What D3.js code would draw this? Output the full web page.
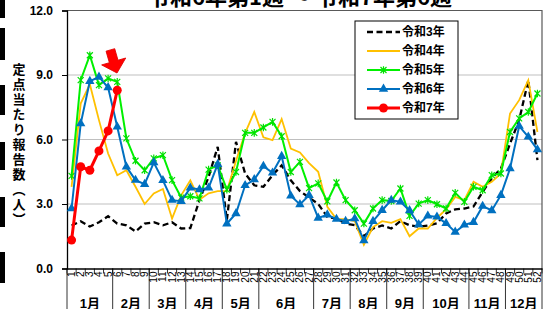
<!DOCTYPE html>
<html><head><meta charset="utf-8">
<script src="https://cdn.jsdelivr.net/npm/d3@7"></script>
<style>body{margin:0;background:#fff}svg{display:block}</style>
</head><body>
<svg id="c" width="544" height="309"></svg>
<script>
const weeks = d3.range(1, 53).map(String);
const months = ["1月","2月","3月","4月","5月","6月","7月","8月","9月","10月","11月","12月"];
const monthWeeks = [5,4,4,4,4,6,4,4,4,5,4,4];
const yTicks = [0, 3, 6, 9, 12];
const seriesNames = ["令和3年","令和4年","令和5年","令和6年","令和7年"];
const r3 = [2.0,2.2,1.95,2.15,2.43,2.09,2.01,1.72,2.09,2.15,2.01,2.15,1.86,1.88,3.18,4.26,5.66,2.25,5.89,4.42,3.87,3.8,4.34,4.8,4.1,3.6,3.3,3.0,2.4,2.32,2.09,2.01,1.5,1.86,2.0,1.86,2.2,2.01,1.94,2.0,2.1,2.56,2.75,2.79,2.88,3.56,4.19,4.65,5.81,6.9,8.76,5.04];
const r4 = [3.8,7.67,8.57,6.9,5.35,4.34,4.57,3.8,3.0,3.49,3.7,2.32,3.4,4.1,3.2,3.5,3.6,3.6,5.0,6.3,7.28,6.1,5.97,6.95,5.58,5.4,4.9,4.5,2.87,2.3,2.3,2.2,1.1,1.93,2.2,2.12,2.3,1.5,1.86,1.86,2.35,2.75,3.33,3.18,4.03,3.8,4.03,4.42,7.21,7.83,8.76,6.35];
const r5 = [4.31,8.76,9.92,8.53,8.84,8.68,6.05,5.01,4.57,5.12,5.27,4.11,3.3,3.36,3.26,4.6,4.8,3.67,4.49,6.31,6.31,6.56,6.82,6.15,4.49,4.96,3.74,3.96,3.12,4.0,3.18,2.71,2.09,2.79,3.18,3.14,3.72,2.45,3.02,3.18,2.99,2.79,3.52,3.1,3.8,3.64,4.34,4.42,6.35,6.98,7.28,8.14];
const r6 = [2.79,6.74,8.71,8.91,8.42,6.59,4.73,4.11,3.92,4.93,4.1,3.18,3.13,3.75,3.67,3.75,4.85,2.08,2.56,3.87,4.14,4.76,4.45,5.22,3.38,2.98,3.41,2.35,2.5,2.3,2.2,2.32,1.3,2.2,2.71,3.18,3.1,2.7,2.05,2.45,2.4,2.1,1.7,2.03,2.15,2.9,2.7,3.41,4.65,6.62,6.12,5.53];
const r7 = [1.32,4.73,4.57,5.47,6.40,8.29];

const svg = d3.select("#c");
const L = 67, R = 542, T = 10.5, B = 268.5;
const x = d3.scaleBand().domain(weeks).range([L, R]);
const y = d3.scaleLinear().domain([0, 12]).range([B, T]);
const cx = i => x(weeks[i]) + x.bandwidth() / 2;
const latin = "'Liberation Sans', Arial, 'Noto Sans CJK JP', sans-serif";
const jp = "'Noto Sans CJK JP', sans-serif";

// left decorative bars
[[0,18],[28,60],[85,115],[142,170],[197,227],[252,283]].forEach(b =>
  svg.append("rect").attr("x",0).attr("y",b[0]).attr("width",5).attr("height",b[1]-b[0]).attr("fill","#000"));

// title
svg.append("text").attr("x", 300).attr("y", 5).attr("text-anchor","middle")
  .style("font-family", jp).style("font-weight","bold").style("font-size","22px")
  .text("令和6年第1週 ～ 令和7年第6週");

// gridlines
svg.append("g").selectAll("line").data([3,6,9]).join("line")
  .attr("x1", L).attr("x2", R).attr("y1", d => y(d)).attr("y2", d => y(d))
  .attr("stroke", "#BFBFBF").attr("stroke-width", 1.2);
// plot border top/right
svg.append("path").attr("d", `M${L},${y(12)}H${R}V${B}`).attr("fill","none").attr("stroke","#595959").attr("stroke-width",1.2);

// y axis
const ya = svg.append("g").attr("transform", `translate(${L},0)`)
  .call(d3.axisLeft(y).tickValues(yTicks).tickSize(5).tickPadding(9).tickFormat(d3.format(".1f")));
ya.select(".domain").attr("stroke","#000").attr("stroke-width",1.3);
ya.selectAll(".tick line").attr("stroke","#000");
ya.selectAll("text").style("font-family", latin).style("font-weight","bold").style("font-size","12px").attr("fill","#000");

// y title
svg.append("text").attr("x", 19).attr("y", 63)
  .attr("writing-mode","vertical-rl")
  .style("font-family", jp).style("font-weight","bold").style("font-size","13px").style("letter-spacing","2px")
  .text("定点当たり報告数（人）");

// x axis
const xa = svg.append("g").attr("transform", `translate(0,${B})`)
  .call(d3.axisBottom(x).tickSize(0).tickPadding(0));
xa.select(".domain").attr("stroke","#000").attr("stroke-width",1.3);
xa.selectAll("text").attr("transform","rotate(-90)").attr("text-anchor","end")
  .attr("x",-3).attr("y",0).attr("dy","0.35em")
  .style("font-family", latin).style("font-size","10px").attr("fill","#000");
// week boundary ticks
svg.append("g").selectAll("line").data(d3.range(0, 53)).join("line")
  .attr("x1", i => L + i * x.step()).attr("x2", i => L + i * x.step())
  .attr("y1", B).attr("y2", B + 5).attr("stroke","#000").attr("stroke-width",0.8);
// month groups
let acc = 0;
const bounds = [0];
monthWeeks.forEach(n => { acc += n; bounds.push(acc); });
svg.append("g").selectAll("line").data(bounds).join("line")
  .attr("x1", i => L + i * x.step()).attr("x2", i => L + i * x.step())
  .attr("y1", B).attr("y2", 309).attr("stroke","#000").attr("stroke-width",0.8);
svg.append("g").selectAll("text").data(months).join("text")
  .attr("x", (d, i) => L + (bounds[i] + bounds[i+1]) / 2 * x.step())
  .attr("y", 303).attr("text-anchor","middle").attr("dominant-baseline","central")
  .style("font-family", latin).style("font-weight","bold").style("font-size","13px")
  .text(d => d);

const line = d3.line().x((d, i) => cx(i)).y(d => y(d));
const g = svg.append("g");
// series
g.append("path").datum(r3).attr("d", line).attr("fill","none").attr("stroke","#000").attr("stroke-width",2.3).attr("stroke-dasharray","6,3.5");
g.append("path").datum(r4).attr("d", line).attr("fill","none").attr("stroke","#FFC000").attr("stroke-width",1.8);
g.append("path").datum(r5).attr("d", line).attr("fill","none").attr("stroke","#00F000").attr("stroke-width",2);
const star = "M-3,-3L3,3M-3,3L3,-3M0,-3.8L0,3.8";
g.append("g").selectAll("path").data(r5).join("path")
  .attr("transform", (d, i) => `translate(${cx(i)},${y(d)})`).attr("d", star)
  .attr("stroke","#00E000").attr("stroke-width",1.2).attr("fill","none");
g.append("path").datum(r6).attr("d", line).attr("fill","none").attr("stroke","#0070C0").attr("stroke-width",2);
const tri = d3.symbol(d3.symbolTriangle, 38)();
g.append("g").selectAll("path").data(r6).join("path")
  .attr("transform", (d, i) => `translate(${cx(i)},${y(d)})`).attr("d", tri).attr("fill","#0070C0");
g.append("path").datum(r7).attr("d", line).attr("fill","none").attr("stroke","#FF0000").attr("stroke-width",3);
g.append("g").selectAll("circle").data(r7).join("circle")
  .attr("cx", (d, i) => cx(i)).attr("cy", d => y(d)).attr("r", 4.5).attr("fill","#FF0000");

// arrow
svg.append("path").attr("transform","translate(117,73) rotate(-16)")
  .attr("d","M-4.5,-24L4.5,-24L4.5,-12L12.5,-12L0,0L-12.5,-12L-4.5,-12Z")
  .attr("fill","#FF0000").attr("stroke","#E00000").attr("stroke-width",0.8);

// legend
const lg = svg.append("g");
lg.append("rect").attr("x",355).attr("y",21).attr("width",103).attr("height",98).attr("fill","#fff").attr("stroke","#000").attr("stroke-width",1);
const ly = [32, 51, 70, 89, 108];
const styles = [
  {c:"#000", w:2.3, dash:"6,3.5"}, {c:"#FFC000", w:1.8}, {c:"#00F000", w:2, m:"star"}, {c:"#0070C0", w:2, m:"tri"}, {c:"#FF0000", w:3, m:"circ"}
];
seriesNames.forEach((n, i) => {
  const s = styles[i];
  lg.append("line").attr("x1",367).attr("x2",400).attr("y1",ly[i]).attr("y2",ly[i])
    .attr("stroke", s.c).attr("stroke-width", s.w).attr("stroke-dasharray", s.dash || null);
  if (s.m === "star") lg.append("path").attr("transform",`translate(383.5,${ly[i]})`).attr("d",star).attr("stroke","#00E000").attr("stroke-width",1.2);
  if (s.m === "tri") lg.append("path").attr("transform",`translate(383.5,${ly[i]})`).attr("d",tri).attr("fill","#0070C0");
  if (s.m === "circ") lg.append("circle").attr("cx",383.5).attr("cy",ly[i]).attr("r",4.5).attr("fill","#FF0000");
  lg.append("text").attr("x",402).attr("y",ly[i]).attr("dominant-baseline","central")
    .style("font-family", latin).style("font-weight","bold").style("font-size","12px").text(n);
});
</script>
</body></html>
